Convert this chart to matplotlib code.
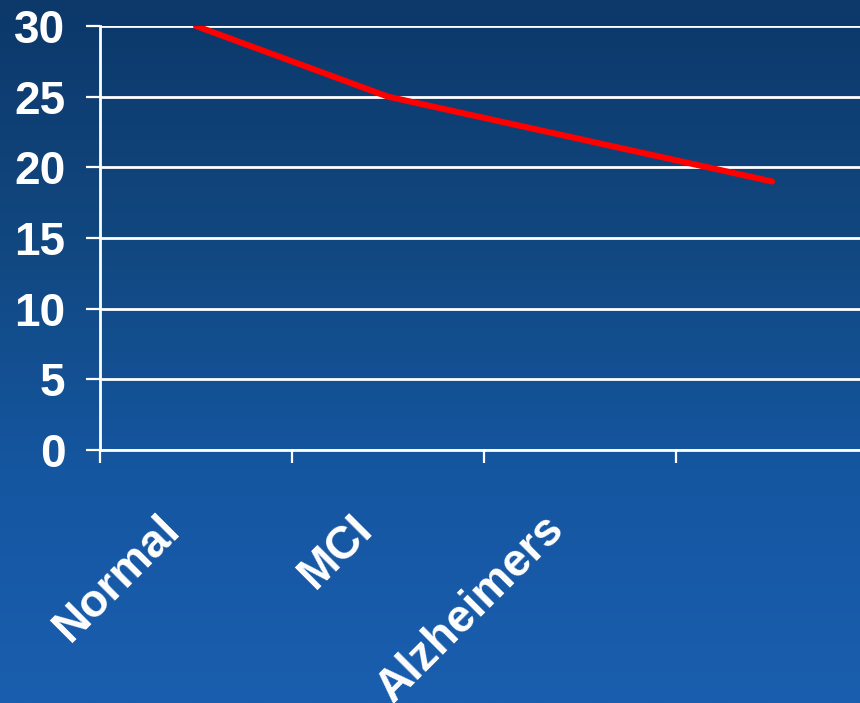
import numpy as np
import matplotlib
matplotlib.use('Agg')
import matplotlib.pyplot as plt
from matplotlib.transforms import ScaledTranslation

# ------------------------------------------------------------------------------
# Datos
# ------------------------------------------------------------------------------
categorias = ['Normal', 'MCI', 'Alzheimers', '']
valores = [30, 25, 22, 19]
yticks = [0, 5, 10, 15, 20, 25, 30]

plt.rcParams['font.family'] = ['Liberation Sans', 'DejaVu Sans']

fig = plt.figure(figsize=(8.6, 7.03), dpi=100)

# Fondo con degradado azul
bg = fig.add_axes([0, 0, 1, 1])
grad = np.linspace(0, 1, 256).reshape(-1, 1)
cmap = matplotlib.colors.LinearSegmentedColormap.from_list(
    'fondo', ['#0c386a', '#11477f', '#1556a0', '#1a5eaf'])
bg.imshow(grad, aspect='auto', cmap=cmap, extent=[0, 1, 0, 1], origin='upper')
bg.axis('off')

# Área del gráfico (se extiende un poco más allá del borde derecho)
W, H = 860.0, 703.0
ax = fig.add_axes([100 / W, (H - 450) / H, 768 / W, 424 / H])
ax.patch.set_alpha(0)

x = np.arange(len(categorias))
ax.plot(x, valores, color='#ff0000', lw=4.4, solid_capstyle='round',
        solid_joinstyle='round', zorder=5)

ax.set_xlim(-0.5, len(categorias) - 0.5)
ax.set_ylim(0, 30)

# Eje y
ax.set_yticks(yticks)
ax.yaxis.grid(True, color='white', lw=2.0)
ax.set_axisbelow(True)
ax.tick_params(axis='y', direction='out', length=10, width=1.6, color='white',
               labelcolor='white', labelsize=33, pad=15)
for lab in ax.get_yticklabels():
    lab.set_fontweight('bold')

# Eje x: marcas en los límites de categoría, etiquetas en el centro
ax.set_xticks(np.arange(-0.5, len(categorias)), labels=[''] * (len(categorias) + 1))
ax.set_xticks(x, labels=categorias, minor=True)
ax.tick_params(axis='x', which='major', direction='out', length=9, width=1.6,
               color='white')
ax.tick_params(axis='x', which='minor', length=0, labelcolor='white',
               labelsize=33, pad=41)
off = ScaledTranslation(-7 / 100, 0, fig.dpi_scale_trans)
for lab in ax.get_xticklabels(minor=True):
    lab.set_fontweight('bold')
    lab.set_rotation(45)
    lab.set_ha('right')
    lab.set_transform(lab.get_transform() + off)

for s in ['top', 'right']:
    ax.spines[s].set_visible(False)
for s in ['left', 'bottom']:
    ax.spines[s].set_color('white')
    ax.spines[s].set_linewidth(2.0)

fig.savefig('out.png', dpi=100)
